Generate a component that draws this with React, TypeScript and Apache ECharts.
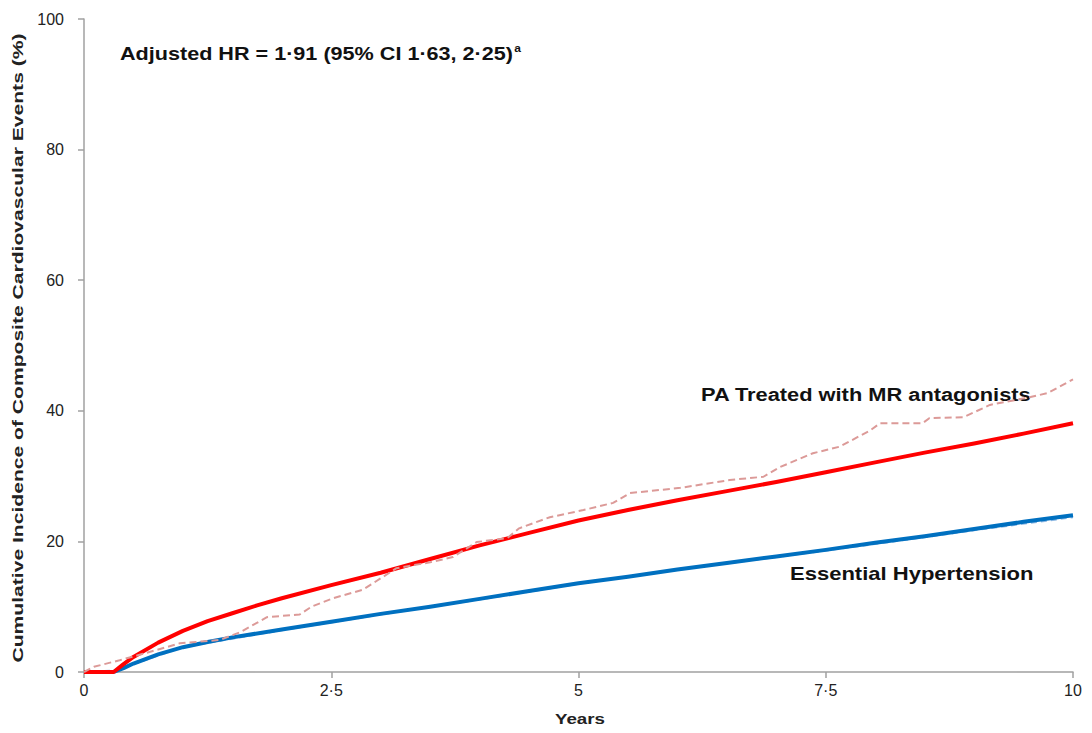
import React, { useEffect, useRef } from "react";
import * as echarts from "echarts";

const xTicks = [0, 2.5, 5, 7.5, 10];
const yTicks = [0, 20, 40, 60, 80, 100];

const paFitted: [number, number][] = [
  [0, 0], [0.3, 0], [0.4, 1.2], [0.5, 2.3], [0.75, 4.5], [1, 6.3], [1.25, 7.8], [1.5, 9.0],
  [1.75, 10.2], [2, 11.3], [2.5, 13.3], [3, 15.2], [3.5, 17.3], [4, 19.4], [4.5, 21.3],
  [5, 23.2], [5.5, 24.8], [6, 26.3], [6.5, 27.7], [7, 29.1], [7.5, 30.6], [8, 32.1],
  [8.5, 33.6], [9, 35.0], [9.5, 36.5], [10, 38.1],
];

const ehFitted: [number, number][] = [
  [0.3, 0], [0.4, 0.6], [0.5, 1.3], [0.75, 2.7], [1, 3.8], [1.25, 4.6], [1.5, 5.3],
  [2, 6.5], [2.5, 7.7], [3, 8.9], [3.5, 10.0], [4, 11.2], [4.5, 12.4], [5, 13.6],
  [5.5, 14.6], [6, 15.7], [6.5, 16.7], [7, 17.7], [7.5, 18.7], [8, 19.8], [8.5, 20.8],
  [9, 21.9], [9.5, 23.0], [10, 24.0],
];

const paObserved: [number, number][] = [
  [0, 0], [0.1, 0.8], [0.36, 1.8], [0.6, 2.8], [0.97, 4.4], [1.37, 4.9], [1.58, 6.1],
  [1.85, 8.4], [2.18, 8.8], [2.3, 10], [2.52, 11.3], [2.82, 12.6], [3.16, 15.9],
  [3.5, 16.8], [3.73, 17.6], [3.97, 19.9], [4.28, 20.5], [4.4, 22], [4.71, 23.7],
  [5.05, 24.8], [5.35, 25.9], [5.52, 27.4], [6.03, 28.2], [6.53, 29.4], [6.87, 29.9],
  [7.04, 31.4], [7.37, 33.5], [7.64, 34.5], [7.95, 37], [8.05, 38.1], [8.48, 38.1],
  [8.55, 38.9], [8.89, 39], [9.16, 40.9], [9.57, 42.1], [9.74, 42.7], [10, 44.8],
];

const ehObserved: [number, number][] = [
  [0, 0], [0.3, 0.2], [1, 3.8], [2, 6.4], [3, 8.8], [4, 11.1], [5, 13.5],
  [6, 15.7], [7, 17.6], [8, 19.6], [9, 21.7], [10, 23.7],
];

const titleText = "Adjusted HR = 1·91 (95% CI 1·63, 2·25)";
const paLabel = "PA Treated with MR antagonists";
const ehLabel = "Essential Hypertension";
const xName = "Years";
const yName = "Cumulative Incidence of Composite Cardiovascular Events (%)";

const FONT = "'Liberation Sans', Arial, sans-serif";

export default function App() {
  const ref = useRef<HTMLDivElement>(null);
  useEffect(() => {
    if (!ref.current) return;
    const chart = echarts.init(ref.current, undefined, { renderer: "svg" });
    chart.setOption({
      animation: false,
      backgroundColor: "#ffffff",
      textStyle: { fontFamily: FONT },
      grid: { left: 84, right: 19, top: 19, bottom: 61, containLabel: false },
      xAxis: {
        type: "value",
        min: 0,
        max: 10,
        interval: 2.5,
        axisLine: { lineStyle: { color: "#a0a0a0", width: 1.5 } },
        axisTick: { show: true, length: 6, lineStyle: { color: "#a0a0a0", width: 1.5 } },
        axisLabel: {
          fontFamily: FONT, fontSize: 16, color: "#222", margin: 10,
          formatter: (v: number) => (xTicks.includes(v) ? String(v).replace(".", "·") : ""),
        },
        splitLine: { show: false },
      },
      yAxis: {
        type: "value",
        min: 0,
        max: 100,
        interval: 20,
        axisLine: { show: true, lineStyle: { color: "#a0a0a0", width: 1.5 } },
        axisTick: { show: true, length: 6, lineStyle: { color: "#a0a0a0", width: 1.5 } },
        axisLabel: {
          fontFamily: FONT, fontSize: 16, color: "#222", margin: 20,
          formatter: (v: number) => (yTicks.includes(v) ? String(v) : ""),
        },
        splitLine: { show: false },
      },
      series: [
        {
          type: "line", data: ehObserved, showSymbol: false, z: 2,
          lineStyle: { color: "#8fb9e3", width: 2, type: [6, 4] },
        },
        {
          type: "line", data: ehFitted, showSymbol: false, z: 3,
          lineStyle: { color: "#0070c0", width: 4, join: "round" },
        },
        {
          type: "line", data: paFitted, showSymbol: false, z: 3,
          lineStyle: { color: "#ff0000", width: 4, join: "round" },
        },
        {
          type: "line", data: paObserved, showSymbol: false, z: 4,
          lineStyle: { color: "#dc9a98", width: 2, type: [7, 4] },
        },
      ],
      graphic: [
        {
          type: "text", x: 120, y: 54, scaleX: 1.2,
          style: {
            text: "{m|" + titleText + "}{s|a}",
            verticalAlign: "middle",
            rich: {
              m: { fontFamily: FONT, fontWeight: "bold", fontSize: 18, fill: "#111", lineHeight: 22 },
              s: { fontFamily: FONT, fontWeight: "bold", fontSize: 10, fill: "#111", verticalAlign: "top", lineHeight: 22, padding: [0, 0, 8, 1] },
            },
          },
        },
        {
          type: "text", x: 701, y: 395, scaleX: 1.18,
          style: { text: paLabel, fontFamily: FONT, fontWeight: "bold", fontSize: 18.5, fill: "#111", verticalAlign: "middle" },
        },
        {
          type: "text", x: 790, y: 574, scaleX: 1.19,
          style: { text: ehLabel, fontFamily: FONT, fontWeight: "bold", fontSize: 18.5, fill: "#111", verticalAlign: "middle" },
        },
        {
          type: "text", x: 580, y: 719, scaleX: 1.25,
          style: { text: xName, fontFamily: FONT, fontWeight: "bold", fontSize: 15, fill: "#222", align: "center", verticalAlign: "middle" },
        },
        {
          type: "text", x: 18, y: 348, rotation: Math.PI / 2, scaleX: 1.36,
          style: { text: yName, fontFamily: FONT, fontWeight: "bold", fontSize: 15.5, fill: "#222", align: "center", verticalAlign: "middle" },
        },
      ],
    });
    return () => chart.dispose();
  }, []);
  return (
    <div
      ref={ref}
      style={{ position: "fixed", left: 0, top: 0, width: 1092, height: 733, background: "#fff" }}
    />
  );
}
